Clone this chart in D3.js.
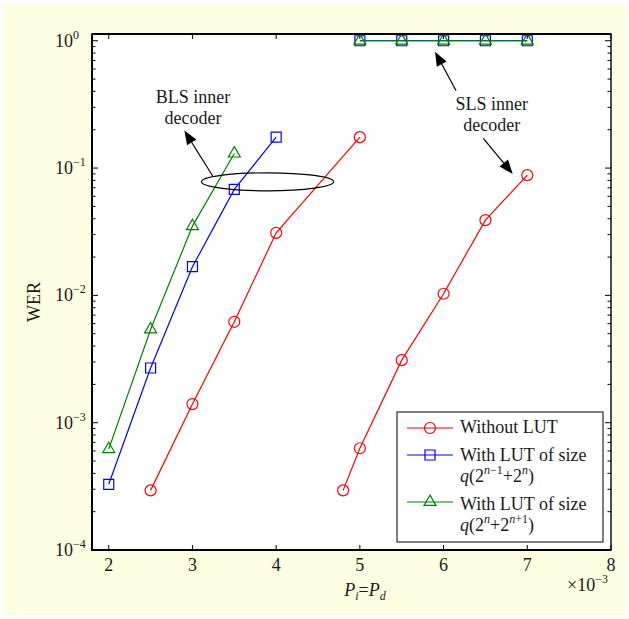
<!DOCTYPE html>
<html lang="en">
<head>
<meta charset="utf-8">
<title>WER vs Pi=Pd</title>
<script src="https://d3js.org/d3.v7.min.js"></script>
<style>
  body{margin:0;background:#ffffff;}
  text{font-family:"Liberation Serif","Times New Roman",serif;fill:#1a1a1a;}
</style>
</head>
<body>
<svg id="chart"></svg>
<script>
// P values are in units of 1e-3 (axis shows x10^-3)
var pBlsNoLut=[2.5,3,3.5,4,5];
var werBlsNoLut=[2.94e-4,1.40e-3,6.2e-3,0.031,0.175];
var pSlsNoLut=[4.8,5,5.5,6,6.5,7];
var werSlsNoLut=[2.94e-4,6.3e-4,3.1e-3,0.0103,0.039,0.088];
var pBlsLutA=[2,2.5,3,3.5,4];
var werBlsLutA=[3.28e-4,2.69e-3,0.0168,0.068,0.175];
var pBlsLutB=[2,2.5,3,3.5];
var werBlsLutB=[6.2e-4,5.4e-3,0.035,0.13];
var pSlsLut=[5,5.5,6,6.5,7];
var werSlsLutA=[1,1,1,1,1];
var werSlsLutB=[1,1,1,1,1];

var xTicks=[2,3,4,5,6,7,8];
var yDecades=[-4,-3,-2,-1,0];

var width=629, height=619;
var pLeft=92, pRight=611, pTop=34, pBottom=550;

var svg=d3.select("#chart").attr("width",width).attr("height",height);

// page background
svg.append("rect").attr("x",3).attr("y",5).attr("width",623).attr("height",610)
   .attr("fill","#fefee3");
svg.append("rect").attr("x",pLeft).attr("y",pTop).attr("width",pRight-pLeft).attr("height",pBottom-pTop)
   .attr("fill","#ffffff");

var x=d3.scaleLinear().domain([1.8,8]).range([pLeft,pRight]);
var y=d3.scaleLog().domain([1e-4,1.13]).range([pBottom,pTop]);

function zip(a,b){ return a.map(function(v,i){ return [v,b[i]]; }); }

var series=[
  {pts:zip(pBlsNoLut,werBlsNoLut),color:"#ff0000",mark:"circle"},
  {pts:zip(pSlsNoLut,werSlsNoLut),color:"#ff0000",mark:"circle"},
  {pts:zip(pBlsLutA,werBlsLutA),color:"#0000ff",mark:"square"},
  {pts:zip(pSlsLut,werSlsLutA),color:"#0000ff",mark:"square"},
  {pts:zip(pBlsLutB,werBlsLutB),color:"#008000",mark:"triangle"},
  {pts:zip(pSlsLut,werSlsLutB),color:"#008000",mark:"triangle"}
];

var symbols={
  circle:d3.symbol().type(d3.symbolCircle).size(95),
  square:d3.symbol().type(d3.symbolSquare).size(100),
  triangle:d3.symbol().type(d3.symbolTriangle).size(62)
};

// ticks (inside)
var tickG=svg.append("g").attr("stroke","#000").attr("stroke-width",1);
xTicks.forEach(function(t){
  tickG.append("line").attr("x1",x(t)).attr("x2",x(t)).attr("y1",pBottom).attr("y2",pBottom-5);
  tickG.append("line").attr("x1",x(t)).attr("x2",x(t)).attr("y1",pTop).attr("y2",pTop+5);
});
yDecades.forEach(function(e){
  for(var k=1;k<10;k++){
    var v=k*Math.pow(10,e);
    if(v>1.13) break;
    var len=(k===1)?6:3.5;
    tickG.append("line").attr("x1",pLeft).attr("x2",pLeft+len).attr("y1",y(v)).attr("y2",y(v));
    tickG.append("line").attr("x1",pRight).attr("x2",pRight-len).attr("y1",y(v)).attr("y2",y(v));
  }
});

var line=d3.line().x(function(d){return x(d[0]);}).y(function(d){return y(d[1]);});

series.forEach(function(s){
  svg.append("path").attr("d",line(s.pts)).attr("fill","none")
     .attr("stroke",s.color).attr("stroke-width",1.2);
  svg.selectAll(null).data(s.pts).enter().append("path")
     .attr("d",symbols[s.mark]())
     .attr("transform",function(d){return "translate("+x(d[0])+","+y(d[1])+")";})
     .attr("fill","none").attr("stroke",s.color).attr("stroke-width",1.2);
});

// annotations
var ellipseC=[3.897,0.078];
svg.append("ellipse").attr("cx",x(ellipseC[0])).attr("cy",y(ellipseC[1]))
   .attr("rx",x(ellipseC[0]+0.79)-x(ellipseC[0])).attr("ry",9)
   .attr("fill","none").attr("stroke","#000").attr("stroke-width",1.2);

function arrow(from,to){
  var x1=x(from[0]),y1=y(from[1]),x2=x(to[0]),y2=y(to[1]);
  var ang=Math.atan2(y2-y1,x2-x1), hl=14, hw=5.5;
  var bx=x2-hl*Math.cos(ang), by=y2-hl*Math.sin(ang);
  svg.append("line").attr("x1",x1).attr("y1",y1).attr("x2",bx).attr("y2",by)
     .attr("stroke","#000").attr("stroke-width",1.2);
  var px=-Math.sin(ang)*hw, py=Math.cos(ang)*hw;
  svg.append("path")
     .attr("d","M"+x2+","+y2+"L"+(bx+px)+","+(by+py)+"L"+(bx-px)+","+(by-py)+"Z")
     .attr("fill","#000");
}
arrow([3.242,0.0867],[2.903,0.197]);
arrow([6.149,0.405],[5.898,0.82]);
arrow([6.475,0.171],[6.826,0.090]);

function note(xd,y1,y2,a,b){
  svg.append("text").attr("x",x(xd)).attr("y",y(y1)).attr("text-anchor","middle")
     .attr("font-size",18).text(a);
  svg.append("text").attr("x",x(xd)).attr("y",y(y2)).attr("text-anchor","middle")
     .attr("font-size",18).text(b);
}
note(3.007,0.324,0.222,"BLS inner","decoder");
note(6.575,0.286,0.195,"SLS inner","decoder");

// frame
svg.append("rect").attr("x",pLeft).attr("y",pTop).attr("width",pRight-pLeft).attr("height",pBottom-pTop)
   .attr("fill","none").attr("stroke","#000").attr("stroke-width",1.4);
svg.append("path").attr("d","M"+pLeft+","+pTop+"V"+pBottom+"H"+pRight)
   .attr("fill","none").attr("stroke","#000").attr("stroke-width",2);
svg.append("line").attr("x1",pLeft).attr("x2",pRight).attr("y1",pTop).attr("y2",pTop)
   .attr("stroke","#000").attr("stroke-width",2);

// tick labels
xTicks.forEach(function(t){
  svg.append("text").attr("x",x(t)).attr("y",571).attr("text-anchor","middle")
     .attr("font-size",18).text(t);
});
yDecades.forEach(function(e){
  var ty=y(Math.pow(10,e))+6;
  svg.append("text").attr("x",73).attr("y",ty).attr("text-anchor","end")
     .attr("font-size",18).text("10");
  svg.append("text").attr("x",73).attr("y",ty-8).attr("font-size",12)
     .text(e===0?"0":"\u2212"+(-e));
});

// axis titles
svg.append("text").attr("x",40).attr("y",302).attr("text-anchor","middle")
   .attr("transform","rotate(-90,40,302)").attr("font-size",18).text("WER");
var xl=svg.append("text").attr("x",365).attr("y",596).attr("text-anchor","middle").attr("font-size",18);
xl.append("tspan").attr("font-style","italic").text("P");
xl.append("tspan").attr("font-style","italic").attr("font-size",12).attr("dy",4).text("i");
xl.append("tspan").attr("dy",-4).text("=");
xl.append("tspan").attr("font-style","italic").text("P");
xl.append("tspan").attr("font-style","italic").attr("font-size",12).attr("dy",4).text("d");
var xm=svg.append("text").attr("x",567).attr("y",591).attr("font-size",18);
xm.append("tspan").text("\u00d710");
xm.append("tspan").attr("font-size",12).attr("dy",-8).text("\u22123");

// legend
var lg=svg.append("g");
lg.append("rect").attr("x",397).attr("y",412).attr("width",206).attr("height",130)
  .attr("fill","#ffffff").attr("stroke","#000").attr("stroke-width",1);
var legendRows=[
  {color:"#ff0000",mark:"circle",ly:428},
  {color:"#0000ff",mark:"square",ly:455},
  {color:"#008000",mark:"triangle",ly:502}
];
legendRows.forEach(function(r){
  lg.append("line").attr("x1",407).attr("x2",453).attr("y1",r.ly).attr("y2",r.ly)
    .attr("stroke",r.color).attr("stroke-width",1.2);
  lg.append("path").attr("d",symbols[r.mark]()).attr("transform","translate(430,"+r.ly+")")
    .attr("fill","none").attr("stroke",r.color).attr("stroke-width",1.2);
});
lg.append("text").attr("x",460).attr("y",433).attr("font-size",18).text("Without LUT");
lg.append("text").attr("x",460).attr("y",461).attr("font-size",18).text("With LUT of size");
var q1=lg.append("text").attr("x",460).attr("y",482).attr("font-size",18);
q1.append("tspan").attr("font-style","italic").text("q");
q1.append("tspan").text("(2");
q1.append("tspan").attr("font-style","italic").attr("font-size",12).attr("dy",-8).text("n");
q1.append("tspan").attr("font-size",12).text("\u22121");
q1.append("tspan").attr("dy",8).text("+2");
q1.append("tspan").attr("font-style","italic").attr("font-size",12).attr("dy",-8).text("n");
q1.append("tspan").attr("dy",8).text(")");
lg.append("text").attr("x",460).attr("y",510).attr("font-size",18).text("With LUT of size");
var q2=lg.append("text").attr("x",460).attr("y",531).attr("font-size",18);
q2.append("tspan").attr("font-style","italic").text("q");
q2.append("tspan").text("(2");
q2.append("tspan").attr("font-style","italic").attr("font-size",12).attr("dy",-8).text("n");
q2.append("tspan").attr("dy",8).text("+2");
q2.append("tspan").attr("font-style","italic").attr("font-size",12).attr("dy",-8).text("n");
q2.append("tspan").attr("font-size",12).text("+1");
q2.append("tspan").attr("dy",8).text(")");
</script>
</body>
</html>
